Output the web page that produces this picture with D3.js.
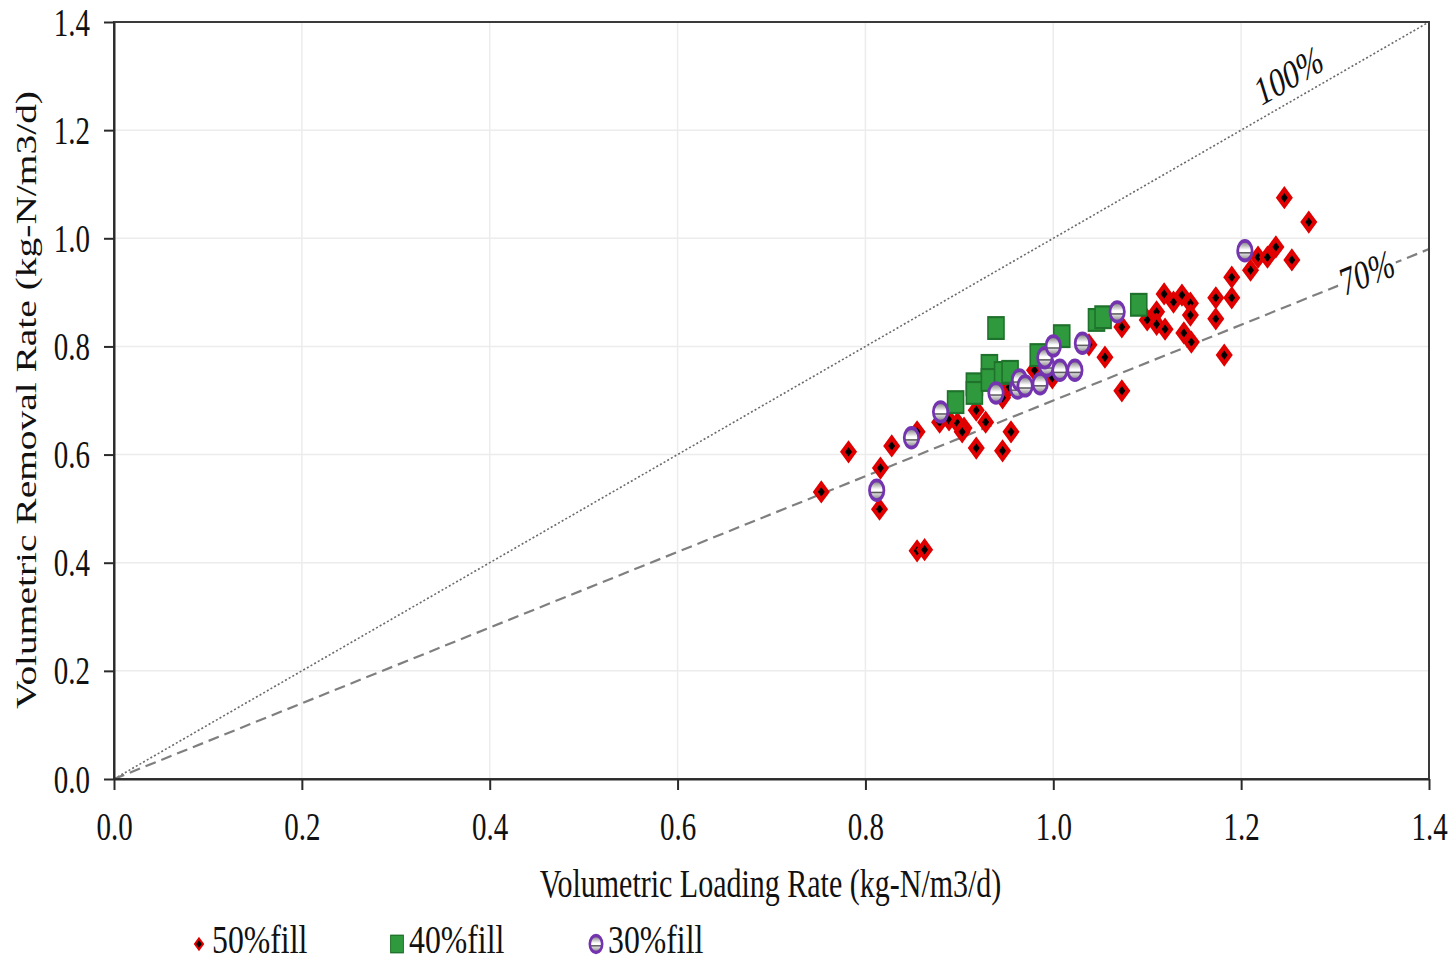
<!DOCTYPE html>
<html>
<head>
<meta charset="utf-8">
<script src="https://cdn.jsdelivr.net/npm/d3@7"></script>
<style>
  html, body { margin: 0; padding: 0; background: #fff; }
  svg { display: block; }
  text { font-family: "Liberation Serif", "Times New Roman", serif; fill: #111; }
</style>
</head>
<body>
<svg id="chart" width="1454" height="962"></svg>
<script>
// Volumetric loading (x) vs. removal (y) rates, kg-N/m3/d, by carrier fill ratio
const xTicks = [0, 0.2, 0.4, 0.6, 0.8, 1.0, 1.2, 1.4];
const yTicks = [0, 0.2, 0.4, 0.6, 0.8, 1.0, 1.2, 1.4];

const seriesNames = ["50%fill", "40%fill", "30%fill"];

const load50 = [0.753,0.782,0.816,0.815,0.828,0.855,0.863,0.855,0.879,0.889,0.898,0.905,0.903,0.918,0.928,0.918,0.946,0.955,0.946,0.953,0.980,0.999,1.038,1.055,1.073,1.073,1.100,1.110,1.110,1.119,1.118,1.128,1.137,1.146,1.146,1.139,1.147,1.173,1.173,1.182,1.190,1.190,1.210,1.218,1.228,1.237,1.254,1.246,1.272];
const removal50 = [0.531,0.605,0.575,0.499,0.616,0.422,0.424,0.642,0.660,0.664,0.658,0.649,0.642,0.682,0.660,0.612,0.607,0.642,0.705,0.725,0.756,0.742,0.803,0.780,0.718,0.836,0.849,0.864,0.841,0.832,0.897,0.882,0.895,0.880,0.858,0.825,0.808,0.890,0.851,0.784,0.928,0.890,0.941,0.965,0.965,0.984,0.960,1.075,1.030];

const load40 = [0.896,0.916,0.916,0.932,0.932,0.939,0.946,0.954,0.984,1.009,1.046,1.053,1.091];
const removal40 = [0.697,0.730,0.714,0.764,0.738,0.834,0.751,0.753,0.784,0.819,0.849,0.854,0.877];

const load30 = [0.812,0.849,0.880,0.939,0.962,0.964,0.970,0.986,0.993,0.991,1.000,1.007,1.023,1.031,1.068,1.204];
const removal30 = [0.534,0.631,0.679,0.714,0.723,0.738,0.727,0.731,0.764,0.779,0.801,0.756,0.756,0.806,0.864,0.977];

// Reference efficiency lines (fraction of load removed)
const efficiencyLines = [
  { ratio: 1.0, label: "100%" },
  { ratio: 0.7, label: "70%" }
];

// ---------------------------------------------------------------
const svg = d3.select("#chart");
const K = 1.36;              // vertical stretch applied to glyphs and markers
const pLeft = 114, pRight = 1429, pTop = 22, pBottom = 779;

const x = d3.scaleLinear().domain([0, 1.4]).range([pLeft, pRight]);
const y = d3.scaleLinear().domain([0, 1.4]).range([pBottom, pTop]);

const defs = svg.append("defs");
const grad = defs.append("linearGradient")
  .attr("id", "ringFill").attr("x1", 0).attr("y1", 0).attr("x2", 0).attr("y2", 1);
[[0, "#6e6e6e"], [0.28, "#c8c8c8"], [0.45, "#ffffff"], [0.55, "#ffffff"],
 [0.6, "#3c3c3c"], [0.68, "#d6d6d6"], [1, "#7a7a7a"]].forEach(([o, c]) =>
  grad.append("stop").attr("offset", o).attr("stop-color", c));

// gridlines
const grid = svg.append("g");
grid.selectAll("line.gx").data(xTicks.filter(d => d > 0 && d < 1.4)).join("line")
  .attr("x1", d => x(d)).attr("x2", d => x(d)).attr("y1", pTop).attr("y2", pBottom)
  .attr("stroke", "#ececec").attr("stroke-width", 1.5);
grid.selectAll("line.gy").data(yTicks.filter(d => d > 0 && d < 1.4)).join("line")
  .attr("y1", d => y(d)).attr("y2", d => y(d)).attr("x1", pLeft).attr("x2", pRight)
  .attr("stroke", "#ececec").attr("stroke-width", 1.5);

// efficiency lines
const lineStyles = { "100%": { w: 1.6, dash: "2,2.2", c: "#6a6a6a" }, "70%": { w: 2.2, dash: "11,6", c: "#7f7f7f" } };
efficiencyLines.forEach(l => {
  const s = lineStyles[l.label];
  svg.append("line")
    .attr("x1", x(0)).attr("y1", y(0)).attr("x2", x(1.4)).attr("y2", y(1.4 * l.ratio))
    .attr("stroke", s.c).attr("stroke-width", s.w).attr("stroke-dasharray", s.dash);
});

// frame
svg.append("rect").attr("x", pLeft).attr("y", pTop).attr("width", pRight - pLeft).attr("height", pBottom - pTop)
  .attr("fill", "none").attr("stroke", "#3a3a3a").attr("stroke-width", 2);

// axes
const fmt = d => d.toFixed(1);
const xAxis = svg.append("g").attr("transform", `translate(0,${pBottom})`)
  .call(d3.axisBottom(x).tickValues(xTicks).tickFormat(fmt).tickSize(11).tickSizeOuter(0));
const yAxis = svg.append("g").attr("transform", `translate(${pLeft},0)`)
  .call(d3.axisLeft(y).tickValues(yTicks).tickFormat(fmt).tickSize(10).tickSizeOuter(0));
[xAxis, yAxis].forEach(a => {
  a.select(".domain").attr("stroke", "#2a2a2a").attr("stroke-width", 2);
  a.selectAll(".tick line").attr("stroke", "#2a2a2a").attr("stroke-width", 2);
  a.selectAll("text").attr("font-size", 29).attr("fill", "#111")
    .attr("font-family", '"Liberation Serif", "Times New Roman", serif');
});
xAxis.selectAll(".tick text").attr("y", 0).attr("dy", 0)
  .attr("transform", `translate(0,61) scale(1,${K})`);
yAxis.selectAll(".tick text").attr("x", 0).attr("dy", 0).attr("text-anchor", "end")
  .attr("transform", `translate(-24,13) scale(1,${K})`);

// axis titles
svg.append("text").attr("text-anchor", "middle").attr("font-size", 30)
  .attr("transform", `translate(${(pLeft + pRight) / 2 - 1},897) scale(1,${K})`)
  .text("Volumetric Loading Rate (kg-N/m3/d)");
svg.append("text").attr("text-anchor", "middle").attr("font-size", 29)
  .attr("transform", `translate(36,400) scale(1,${K}) rotate(-90)`)
  .text("Volumetric Removal Rate (kg-N/m3/d)");

// efficiency labels placed along their lines
function lineLabel(ratio, at, offset) {
  const slope = ratio * (pBottom - pTop) / (pRight - pLeft);   // screen slope
  const ang = -Math.atan(slope / K) * 180 / Math.PI;           // angle before stretch
  const px = x(at), py = y(at * ratio) + offset;
  return svg.append("g").attr("transform", `translate(${px},${py}) scale(1,${K}) rotate(${ang})`);
}
const g100 = lineLabel(1.0, 1.256, -8);
g100.append("text").attr("text-anchor", "middle").attr("font-size", 30).attr("y", -3).text(efficiencyLines[0].label);
const g70 = lineLabel(0.7, 1.334, 0);
g70.append("rect").attr("x", -30).attr("y", -12).attr("width", 60).attr("height", 22).attr("fill", "#fff");
g70.append("text").attr("text-anchor", "middle").attr("font-size", 30).attr("y", 9).text(efficiencyLines[1].label);

// marker shapes (drawn in unstretched units, then stretched by K)
function diamond(g, s) {
  return g.append("path").attr("d", `M0,${-s}L${s},0L0,${s}L${-s},0Z`)
    .attr("fill", "#000").attr("stroke", "#e00000").attr("stroke-width", 3.6).attr("stroke-linejoin", "miter");
}
function square(g, s) {
  return g.append("rect").attr("x", -s).attr("y", -s).attr("width", 2 * s).attr("height", 2 * s)
    .attr("fill", "#2f9a3d").attr("stroke", "#1f722b").attr("stroke-width", 1.6);
}
function ring(g, r) {
  return g.append("circle").attr("r", r)
    .attr("fill", "url(#ringFill)").attr("stroke", "#7434b0").attr("stroke-width", 2.8);
}

const plot = svg.append("g");
const zip = (xs, ys) => xs.map((v, i) => [v, ys[i]]);

plot.append("g").selectAll("g").data(zip(load50, removal50)).join("g")
  .attr("transform", d => `translate(${x(d[0])},${y(d[1])}) scale(1,${K})`)
  .each(function () { diamond(d3.select(this), 6); });

plot.append("g").selectAll("g").data(zip(load40, removal40)).join("g")
  .attr("transform", d => `translate(${x(d[0])},${y(d[1])}) scale(1,${K})`)
  .each(function () { square(d3.select(this), 8); });

plot.append("g").selectAll("g").data(zip(load30, removal30)).join("g")
  .attr("transform", d => `translate(${x(d[0])},${y(d[1])}) scale(1,${K})`)
  .each(function () { ring(d3.select(this), 7.2); });

// legend
const legendItems = [
  { name: seriesNames[0], mx: 199, tx: 212, draw: g => diamond(g, 4).attr("stroke-width", 1.8) },
  { name: seriesNames[1], mx: 397, tx: 409, draw: g => square(g, 6.4).attr("stroke-width", 1) },
  { name: seriesNames[2], mx: 596, tx: 608, draw: g => ring(g, 6.2).attr("stroke-width", 2.6) }
];
const legend = svg.append("g");
legendItems.forEach(it => {
  const mg = legend.append("g").attr("transform", `translate(${it.mx},944) scale(1,${K})`);
  it.draw(mg);
  legend.append("text").attr("font-size", 30)
    .attr("transform", `translate(${it.tx},953) scale(1.06,${K * 0.97})`).text(it.name);
});
</script>
</body>
</html>
